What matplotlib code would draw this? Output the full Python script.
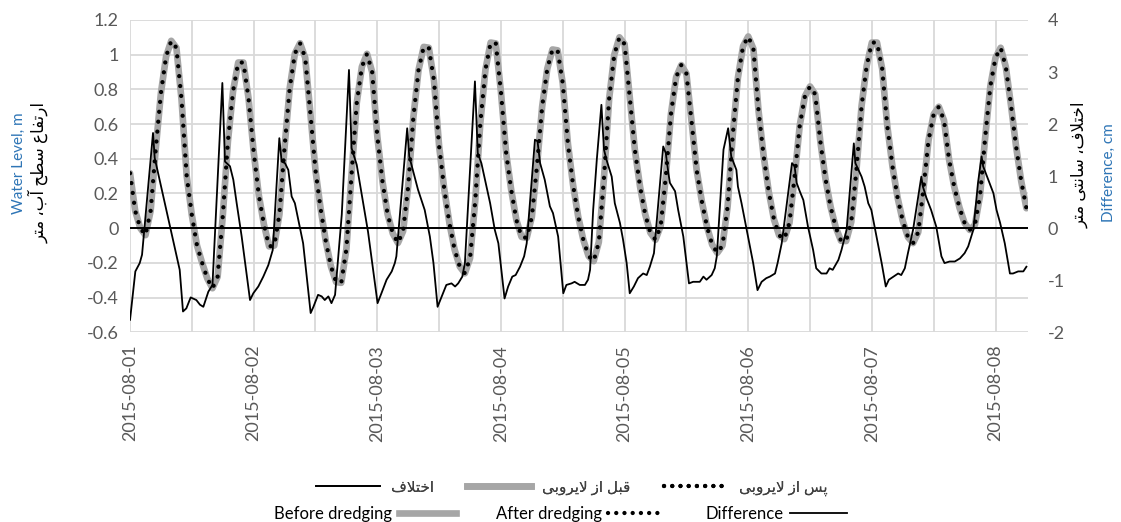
import matplotlib
matplotlib.use('Agg')
import matplotlib.pyplot as plt
import matplotlib.dates as mdates
from matplotlib.lines import Line2D
import pandas as pd

start = pd.Timestamp('2015-08-01')

# water level (m), one value per hour from 2015-08-01 00:00
level_before = [
    0.317, 0.10, 0.00, -0.04, 0.10, 0.46, 0.78, 0.99, 1.08, 1.04,
    0.74, 0.30, 0.075, -0.10, -0.20, -0.29, -0.346, -0.28, 0.07, 0.50,
    0.79, 0.955, 0.955, 0.75, 0.44, 0.19, 0.02, -0.105, -0.10, 0.08,
    0.468, 0.808, 1.007, 1.066, 0.983, 0.665, 0.333, 0.112, -0.075, -0.22,
    -0.31, -0.315, -0.12, 0.31, 0.72, 0.93, 1.005, 0.90, 0.53, 0.27,
    0.08, -0.03, -0.085, -0.018, 0.243, 0.64, 0.911, 1.045, 1.04, 0.851,
    0.472, 0.224, 0.028, -0.123, -0.221, -0.26, -0.173, 0.154, 0.608, 0.916,
    1.07, 1.065, 0.785, 0.436, 0.219, 0.047, -0.05, -0.056, 0.065, 0.361,
    0.701, 0.92, 1.03, 1.025, 0.835, 0.487, 0.249, 0.066, -0.068, -0.16,
    -0.19, -0.08, 0.29, 0.745, 1.0, 1.10, 1.061, 0.756, 0.45, 0.24,
    0.08, -0.026, -0.067, 0.012, 0.296, 0.658, 0.87, 0.94, 0.891, 0.615,
    0.333, 0.154, 0.008, -0.095, -0.142, -0.10, 0.125, 0.537, 0.868, 1.049,
    1.105, 1.035, 0.677, 0.414, 0.208, 0.05, -0.041, -0.063, 0.03, 0.295,
    0.592, 0.76, 0.817, 0.772, 0.50, 0.284, 0.122, 0.004, -0.072, -0.074,
    0.036, 0.332, 0.704, 0.937, 1.07, 1.07, 0.919, 0.588, 0.356, 0.175,
    0.042, -0.051, -0.086, -0.023, 0.224, 0.507, 0.657, 0.70, 0.622, 0.393,
    0.237, 0.119, 0.03, -0.01, 0.019, 0.187, 0.524, 0.819, 0.982, 1.04,
    0.93, 0.71, 0.47, 0.27, 0.115,
]
# after dredging is the same curve within a few mm
level_after = level_before

# difference (cm), read at the corners of the line; time in hours
diff_hours = [
    0, 1.03, 1.88, 2.33, 4.46, 4.79, 9.64, 10.28, 10.93, 11.77,
    12.87, 13.58, 14.23, 15.2, 16.0, 17.92, 18.43, 19.4, 20.05, 20.7,
    21.67, 23.29, 23.93, 24.9, 25.87, 26.84, 27.7, 28.98, 29.43, 30.08,
    30.72, 31.37, 32.0, 33.6, 35.06, 35.6, 36.5, 37.2, 37.8, 38.5,
    39.1, 39.8, 41.1, 42.5, 43.0, 44.0, 46.2, 48.05, 48.8, 49.8,
    50.8, 51.4, 51.7, 53.8, 54.2, 55.9, 57.2, 58.2, 58.9, 59.7,
    60.5, 61.4, 62.4, 63.1, 63.7, 64.5, 65.0, 66.95, 67.5, 68.2,
    69.9, 70.8, 71.5, 72.7, 73.4, 74.2, 74.85, 75.7, 76.5, 77.0,
    78.6, 79.1, 79.6, 80.5, 81.5, 82.1, 83.1, 84.1, 84.7, 85.7,
    86.3, 87.3, 88.3, 88.9, 89.3, 89.9, 90.6, 91.5, 92.0, 92.5,
    93.5, 94.1, 95.1, 95.7, 96.4, 97.0, 97.8, 98.6, 99.6, 100.3,
    100.9, 101.7, 103.5, 104.0, 104.5, 104.8, 105.8, 106.4, 107.4, 108.5,
    109.3, 110.6, 111.3, 111.9, 112.9, 113.5, 113.9, 115.2, 116.1, 116.7,
    117.7, 118.0, 118.7, 119.7, 120.96, 121.8, 122.6, 123.5, 124.2, 125.2,
    125.7, 126.5, 128.5, 129.0, 129.4, 130.0, 130.7, 131.6, 132.6, 133.2,
    134.2, 135.2, 135.8, 136.4, 137.5, 138.1, 139.1, 140.5, 140.8, 142.0,
    142.6, 143.3, 143.9, 144.9, 145.9, 146.7, 147.3, 148.2, 149.1, 149.7,
    150.4, 151.0, 152.0, 153.6, 153.9, 154.6, 155.5, 156.5, 157.5, 158.1,
    159.1, 160.1, 161.1, 162.0, 162.7, 163.7, 164.6, 165.3, 165.6, 166.6,
    167.6, 168.2, 168.9, 169.8, 170.8, 171.4, 172.4, 173.4, 174.0,
]
diff_cm = [
    -1.76, -0.83, -0.67, -0.51, 1.83, 1.35, -0.80, -1.60, -1.54, -1.33,
    -1.38, -1.47, -1.51, -1.22, -1.09, 2.79, 1.28, 1.19, 0.93, 0.48,
    -0.16, -1.38, -1.25, -1.12, -0.93, -0.71, -0.42, 1.73, 1.28, 1.25,
    1.12, 0.61, 0.48, -0.29, -1.63, -1.51, -1.28, -1.31, -1.38, -1.31,
    -1.44, -1.28, 0.26, 3.04, 1.54, 1.22, -0.07, -1.44, -1.25, -0.99,
    -0.83, -0.67, -0.54, 1.92, 1.38, 0.74, 0.35, -0.16, -0.67, -1.51,
    -1.31, -1.09, -1.06, -1.12, -1.06, -0.93, -0.67, 2.82, 1.44, 1.25,
    0.48, -0.03, -0.29, -1.35, -1.12, -0.93, -0.90, -0.74, -0.54, -0.29,
    1.70, 1.67, 1.25, 0.93, 0.42, 0.29, -0.16, -1.25, -1.09, -1.06,
    -1.03, -1.09, -1.09, -0.99, -0.80, 0.35, 1.31, 2.37, 1.51, 1.31,
    0.99, 0.48, 0.10, -0.22, -0.67, -1.25, -1.12, -0.96, -0.87, -0.90,
    -0.74, -0.48, 1.57, 1.44, 1.06, 0.87, 0.71, 0.35, -0.16, -1.06,
    -1.03, -1.03, -0.93, -0.99, -0.90, -0.77, -0.54, 1.51, 1.92, 1.38,
    1.12, 0.80, 0.48, -0.03, -0.67, -1.19, -1.03, -0.96, -0.93, -0.87,
    -0.67, -0.29, 1.25, 1.19, 0.87, 0.71, 0.54, 0.03, -0.42, -0.77,
    -0.87, -0.87, -0.77, -0.80, -0.61, -0.42, -0.03, 1.63, 1.25, 0.99,
    0.80, 0.48, 0.35, -0.16, -0.67, -1.12, -0.99, -0.93, -0.87, -0.90,
    -0.77, -0.48, -0.03, 0.99, 0.80, 0.58, 0.35, 0.03, -0.54, -0.67,
    -0.64, -0.64, -0.58, -0.48, -0.35, -0.03, 0.87, 1.38, 1.19, 0.93,
    0.67, 0.35, 0.10, -0.29, -0.87, -0.87, -0.83, -0.83, -0.74,
]

fa_left = 'ارتفاع سطح آب، متر'
fa_right = 'اختلاف، سانتی متر'
fa_diff = 'اختلاف'
fa_before = 'قبل از لایروبی'
fa_after = 'پس از لایروبی'

# matplotlib does not join Arabic letters: use presentation forms
# (isolated, final[, initial, medial]) and reverse for display
FORMS = {
    'ا': (0xFE8D, 0xFE8E), 'آ': (0xFE81, 0xFE82), 'ر': (0xFEAD, 0xFEAE),
    'ز': (0xFEAF, 0xFEB0), 'و': (0xFEED, 0xFEEE),
    'ب': (0xFE8F, 0xFE90, 0xFE91, 0xFE92), 'پ': (0xFB56, 0xFB57, 0xFB58, 0xFB59),
    'ت': (0xFE95, 0xFE96, 0xFE97, 0xFE98), 'ح': (0xFEA1, 0xFEA2, 0xFEA3, 0xFEA4),
    'خ': (0xFEA5, 0xFEA6, 0xFEA7, 0xFEA8), 'س': (0xFEB1, 0xFEB2, 0xFEB3, 0xFEB4),
    'ط': (0xFEC1, 0xFEC2, 0xFEC3, 0xFEC4), 'ع': (0xFEC9, 0xFECA, 0xFECB, 0xFECC),
    'ف': (0xFED1, 0xFED2, 0xFED3, 0xFED4), 'ق': (0xFED5, 0xFED6, 0xFED7, 0xFED8),
    'ل': (0xFEDD, 0xFEDE, 0xFEDF, 0xFEE0), 'م': (0xFEE1, 0xFEE2, 0xFEE3, 0xFEE4),
    'ن': (0xFEE5, 0xFEE6, 0xFEE7, 0xFEE8), 'ی': (0xFBFC, 0xFBFD, 0xFBFE, 0xFBFF),
}


def fa(text):
    out = []
    joined = False
    i = 0
    while i < len(text):
        c = text[i]
        if c == 'ل' and text[i + 1:i + 2] == 'ا':
            out.append(chr(0xFEFC if joined else 0xFEFB))
            joined = False
            i += 2
            continue
        if c not in FORMS:
            out.append(c)
            joined = False
            i += 1
            continue
        f = FORMS[c]
        to_next = len(f) == 4 and text[i + 1:i + 2] in FORMS
        if joined and to_next:
            g = f[3]
        elif joined:
            g = f[1]
        elif to_next:
            g = f[2]
        else:
            g = f[0]
        out.append(chr(g))
        joined = len(f) == 4
        i += 1
    return ''.join(reversed(out))


plt.rcParams['font.family'] = ['Lato', 'DejaVu Sans']
plt.rcParams['axes.unicode_minus'] = False

t_level = start + pd.to_timedelta(range(len(level_before)), unit='h')
t_diff = start + pd.to_timedelta(diff_hours, unit='h')

grey = '#595959'
blue = '#2e75b6'
dots = (0, (0.01, 2.3))

fig = plt.figure(figsize=(11.21, 5.22), dpi=100)
ax = fig.add_axes([0.116, 0.3634, 0.801, 0.5983])
ax2 = ax.twinx()

l_before, = ax.plot(t_level, level_before, color='#a6a6a6', lw=4.8,
                    solid_capstyle='round', zorder=2)
l_after, = ax.plot(t_level, level_after, color='black', lw=3.1,
                   linestyle=dots, dash_capstyle='round', zorder=3)
l_diff, = ax2.plot(t_diff, diff_cm, color='black', lw=1.3, zorder=4)
ax2.axhline(0, color='black', lw=1.4, zorder=5)

ax.set_ylim(-0.6, 1.2)
ax.set_yticks([-0.6, -0.4, -0.2, 0, 0.2, 0.4, 0.6, 0.8, 1, 1.2])
ax.set_yticklabels(['-0.6', '-0.4', '-0.2', '0', '0.2', '0.4', '0.6', '0.8', '1', '1.2'])
ax2.set_ylim(-2, 4)
ax2.set_yticks(range(-2, 5))
ax.set_xlim(start, start + pd.Timedelta(hours=174.3))

ax.xaxis.set_major_locator(mdates.DayLocator())
ax.xaxis.set_minor_locator(mdates.HourLocator(byhour=[12]))
ax.xaxis.set_major_formatter(mdates.DateFormatter('%Y-%m-%d'))
ax.grid(True, which='both', axis='x', color='#d9d9d9', lw=1.3)
ax.grid(True, which='major', axis='y', color='#d9d9d9', lw=1.3)
ax.set_axisbelow(True)

for a in (ax, ax2):
    for s in a.spines.values():
        s.set_visible(False)
ax.tick_params(axis='x', which='both', length=0, pad=9, labelsize=13,
               labelcolor=grey, labelrotation=90)
ax.tick_params(axis='y', length=0, pad=8, labelsize=13, labelcolor=grey)
ax2.tick_params(axis='y', length=0, pad=14, labelsize=13, labelcolor=grey)

fig.text(0.017, 0.687, 'Water Level, m', rotation=90, color=blue,
         fontsize=11, ha='center', va='center')
fig.text(0.034, 0.67, fa(fa_left), rotation=90, color='black',
         fontsize=12, ha='center', va='center')
fig.text(0.963, 0.684, fa(fa_right), rotation=90, color='black',
         fontsize=12, ha='center', va='center')
fig.text(0.989, 0.67, 'Difference, cm', rotation=90, color=blue,
         fontsize=11, ha='center', va='center')


def handle(line):
    return Line2D([], [], color=line.get_color(), lw=line.get_linewidth(),
                  linestyle=line.get_linestyle(), dash_capstyle='round')


h_before, h_after, h_diff = handle(l_before), handle(l_after), handle(l_diff)
h_after.set_linestyle((0, (0.01, 1.9)))

leg1 = fig.legend([h_diff, h_before, h_after],
                  [fa(fa_diff), fa(fa_before), fa(fa_after)],
                  loc='center', bbox_to_anchor=(0.51, 0.065), ncol=3,
                  frameon=False, fontsize=11, handlelength=4.2,
                  handletextpad=0.7, columnspacing=2.2, labelcolor='#404040')
fig.legend([h_before, h_after, h_diff],
           ['Before dredging', 'After dredging', 'Difference'],
           loc='center', bbox_to_anchor=(0.5, 0.016), ncol=3, markerfirst=False,
           frameon=False, fontsize=12, handlelength=3.4,
           handletextpad=0.4, columnspacing=2.4, labelcolor='black')
fig.add_artist(leg1)

fig.savefig('out.png', dpi=100)
